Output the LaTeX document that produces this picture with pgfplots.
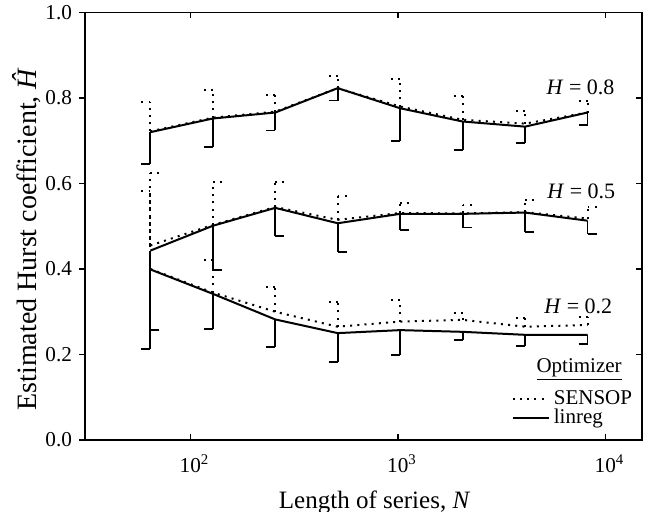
\documentclass[border=0pt]{standalone}
\usepackage{fontspec}
\setmainfont{Liberation Serif}
\usepackage{pgfplots}
\pgfplotsset{compat=1.18}
\usepackage{pgfplotstable}

\pgfdeclareplotmark{capL}{\pgfpathmoveto{\pgfqpoint{-\pgfplotmarksize}{0pt}}\pgfpathlineto{\pgfqpoint{0pt}{0pt}}\pgfusepathqstroke}
\pgfdeclareplotmark{capR}{\pgfpathmoveto{\pgfqpoint{\pgfplotmarksize}{0pt}}\pgfpathlineto{\pgfqpoint{0pt}{0pt}}\pgfusepathqstroke}

% linreg: mean and lower error; SENSOP: mean and upper error
\pgfplotstableread{
N m e
64 0.720 0.075
128 0.752 0.067
256 0.766 0.042
512 0.823 0.029
1024 0.776 0.077
2048 0.745 0.067
4096 0.733 0.039
8192 0.766 0.029
}\linEight
\pgfplotstableread{
N m e
64 0.722 0.069
128 0.754 0.065
256 0.768 0.039
512 0.823 0.029
1024 0.780 0.064
2048 0.749 0.056
4096 0.740 0.030
8192 0.766 0.028
}\senEight
\pgfplotstableread{
N m e
64 0.443 0.186
128 0.501 0.103
256 0.543 0.065
512 0.507 0.068
1024 0.529 0.038
2048 0.529 0.032
4096 0.532 0.045
8192 0.513 0.031
}\linFive
\pgfplotstableread{
N m e
64 0.455 0.170
128 0.503 0.100
256 0.545 0.058
512 0.515 0.056
1024 0.531 0.024
2048 0.530 0.020
4096 0.533 0.028
8192 0.518 0.028
}\senFive
\pgfplotstableread{
N m e
64 0.399 0.186
128 0.342 0.083
256 0.282 0.064
512 0.250 0.067
1024 0.257 0.058
2048 0.253 0.019
4096 0.246 0.026
8192 0.246 0.021
}\linTwo
\pgfplotstableread{
N m e
64 0.400 0.183
128 0.345 0.076
256 0.300 0.059
512 0.265 0.058
1024 0.277 0.050
2048 0.281 0.015
4096 0.265 0.020
8192 0.269 0.018
}\senTwo

\begin{document}
\begin{tikzpicture}
\useasboundingbox (-42.5pt,-36pt) rectangle (282pt,220pt);
\begin{axis}[
  at={(0pt,0pt)}, anchor=south west,
  scale only axis, width=278.5pt, height=213.75pt,
  xmode=log, xmin=31, xmax=15000, ymin=0, ymax=1,
  axis line style={line width=0.8pt},
  major tick style={line width=0.7pt, black},
  major tick length=3pt,
  xminorticks=false,
  tick align=outside,
  xtick=\empty,
  ytick pos=left,
  ytick={0,0.2,0.4,0.6,0.8,1},
  yticklabel style={font=\fontsize{10.6}{13}\selectfont,
    /pgf/number format/.cd, fixed, fixed zerofill, precision=1, assume math mode=true},
  ylabel={Estimated Hurst coefficient, \textit{\^H}},
  every axis y label/.style={at={(axis description cs:-0.105,0.47)}, rotate=90, anchor=center,
    font=\fontsize{14}{16}\selectfont},
]
\end{axis}
\begin{axis}[
  at={(0pt,0pt)}, anchor=south west,
  scale only axis, width=278.5pt, height=213.75pt,
  xmode=log, xmin=31, xmax=15000, ymin=0, ymax=1,
  axis line style={line width=0.8pt},
  major tick style={line width=0.7pt, black},
  major tick length=3pt,
  xminorticks=false,
  tick align=inside,
  ytick pos=right,
  ytick={0.2,0.4,0.6,0.8},
  yticklabels={},
  xtick pos=both,
  xticklabel pos=lower,
  xtick={100,1000,10000},
  xticklabels={10\textsuperscript{2},10\textsuperscript{3},10\textsuperscript{4}},
  xticklabel style={font=\fontsize{10.6}{13}\selectfont, yshift=-4pt, xshift=2pt},
  xlabel={Length of series, \textit{N}},
  every axis x label/.style={at={(axis description cs:0.52,0)}, anchor=north, yshift=-22pt,
    font=\fontsize{12.5}{14}\selectfont},
  legend style={at={(rel axis cs:0.99,0.125)}, anchor=north east, draw=none, fill=none,
    font=\fontsize{10.5}{11}\selectfont, row sep=-3.5pt, inner sep=0pt},
  legend cell align=left,
  legend image code/.code={\draw[#1] (0pt,0pt) -- (18pt,0pt);},
]
% SENSOP lines with upward error bars
\addplot[forget plot, black, line width=1pt, dash pattern=on 1pt off 2.6pt,
  error bars/.cd, y dir=plus, y explicit, error mark=none,
  error bar style={line width=1pt, dash pattern=on 1pt off 2.6pt}]
  table[x=N, y=m, y error=e] {\senEight};
\addplot[forget plot, black, line width=1pt, dash pattern=on 1pt off 2.6pt,
  error bars/.cd, y dir=plus, y explicit, error mark=none,
  error bar style={line width=1pt, dash pattern=on 1pt off 2.6pt}]
  table[x=N, y=m, y error=e] {\senFive};
\addplot[forget plot, black, line width=1pt, dash pattern=on 1pt off 2.6pt,
  error bars/.cd, y dir=plus, y explicit, error mark=none,
  error bar style={line width=1pt, dash pattern=on 1pt off 2.6pt}]
  table[x=N, y=m, y error=e] {\senTwo};
% SENSOP caps (top ends)
\addplot[forget plot, only marks, mark=capL, mark size=4.5pt,
  mark options={line width=1pt, dash pattern=on 1pt off 2.6pt}]
  table[x=N, y expr=\thisrow{m}+\thisrow{e}] {\senEight};
\addplot[forget plot, only marks, mark=capR, mark size=4.5pt,
  mark options={line width=1pt, dash pattern=on 1pt off 2.6pt}]
  table[x=N, y expr=\thisrow{m}+\thisrow{e}] {\senFive};
\addplot[forget plot, only marks, mark=capL, mark size=4.5pt,
  mark options={line width=1pt, dash pattern=on 1pt off 2.6pt}]
  table[x=N, y expr=\thisrow{m}+\thisrow{e}] {\senTwo};
% linreg lines with downward error bars
\addplot[forget plot, black, line width=1pt, solid,
  error bars/.cd, y dir=minus, y explicit, error mark=none,
  error bar style={line width=0.9pt, solid}]
  table[x=N, y=m, y error=e] {\linEight};
\addplot[forget plot, black, line width=1pt, solid,
  error bars/.cd, y dir=minus, y explicit, error mark=none,
  error bar style={line width=0.9pt, solid}]
  table[x=N, y=m, y error=e] {\linFive};
\addplot[forget plot, black, line width=1pt, solid,
  error bars/.cd, y dir=minus, y explicit, error mark=none,
  error bar style={line width=0.9pt, solid}]
  table[x=N, y=m, y error=e] {\linTwo};
% linreg caps (bottom ends)
\addplot[forget plot, only marks, mark=capL, mark size=4.5pt,
  mark options={line width=0.9pt, solid}]
  table[x=N, y expr=\thisrow{m}-\thisrow{e}] {\linEight};
\addplot[forget plot, only marks, mark=capR, mark size=4.5pt,
  mark options={line width=0.9pt, solid}]
  table[x=N, y expr=\thisrow{m}-\thisrow{e}] {\linFive};
\addplot[forget plot, only marks, mark=capL, mark size=4.5pt,
  mark options={line width=0.9pt, solid}]
  table[x=N, y expr=\thisrow{m}-\thisrow{e}] {\linTwo};
\addlegendimage{black, line width=1pt, dash pattern=on 1pt off 2.6pt}
\addlegendentry{SENSOP}
\addlegendimage{black, line width=1pt, solid}
\addlegendentry{linreg}
\node[font=\fontsize{11}{12}\selectfont] at (axis cs:7590,0.826) {\textit{H} = 0.8};
\node[font=\fontsize{11}{12}\selectfont] at (axis cs:7650,0.581) {\textit{H} = 0.5};
\node[font=\fontsize{11}{12}\selectfont] at (axis cs:7400,0.313) {\textit{H} = 0.2};
\node[font=\fontsize{10.5}{12}\selectfont] at (rel axis cs:0.887,0.164) {\underline{Optimizer}};
\end{axis}
\end{tikzpicture}
\end{document}
